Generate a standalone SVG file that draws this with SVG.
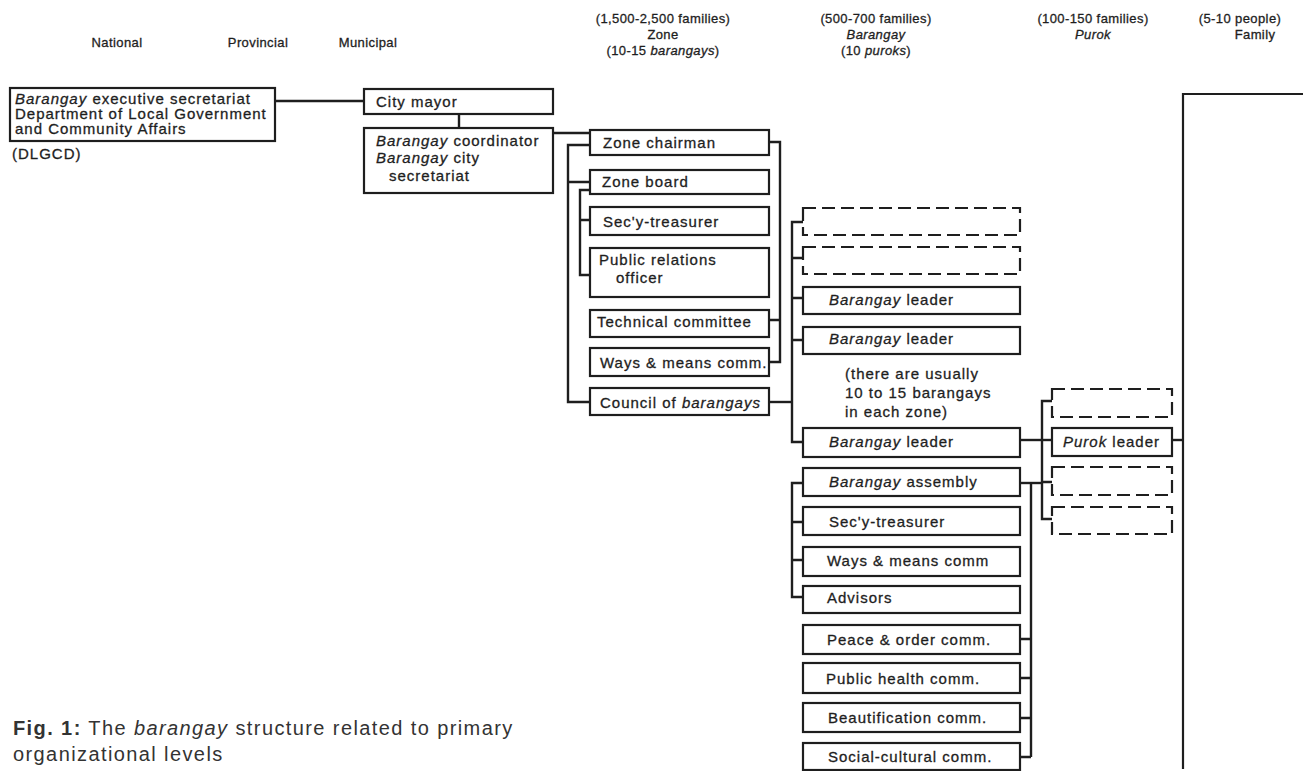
<svg xmlns="http://www.w3.org/2000/svg" width="1303" height="771" viewBox="0 0 1303 771">
<style>
.bx{fill:none;stroke:#1e1e1e;stroke-width:2.2}
.ds{fill:none;stroke:#1e1e1e;stroke-width:2.2;stroke-dasharray:13 6}
.ln{fill:none;stroke:#1e1e1e;stroke-width:2.4}
text{font-family:"Liberation Sans",Arial,sans-serif;fill:#1e1e1e;stroke:#1e1e1e;stroke-width:0.3}
.t{font-size:15px;letter-spacing:1px}
.h{font-size:13px;letter-spacing:0.4px;text-anchor:middle}
.i{font-style:italic}
.cap{font-size:20px;letter-spacing:1.4px;fill:#333;stroke:none}
</style>
<rect width="1303" height="771" fill="#fff"/>
<g id="headers">
<text class="h" x="117" y="47">National</text>
<text class="h" x="258" y="47">Provincial</text>
<text class="h" x="368" y="47">Municipal</text>
<text class="h" x="663" y="23">(1,500-2,500 families)</text>
<text class="h" x="663" y="39">Zone</text>
<text class="h" x="663" y="55">(10-15 <tspan class="i">barangays</tspan>)</text>
<text class="h" x="876" y="23">(500-700 families)</text>
<text class="h i" x="876" y="39">Barangay</text>
<text class="h" x="876" y="55">(10 <tspan class="i">puroks</tspan>)</text>
<text class="h" x="1093" y="23">(100-150 families)</text>
<text class="h i" x="1093" y="39">Purok</text>
<text class="h" x="1240" y="23">(5-10 people)</text>
<text class="h" x="1255" y="39">Family</text>
</g>
<g id="connectors">
<path class="ln" d="M275 101H364"/>
<path class="ln" d="M459 114V128"/>
<path class="ln" d="M553 133H590"/>
<path class="ln" d="M590 145H568V402H590M568 182H590"/>
<path class="ln" d="M590 190H580V275H590M580 220H590"/>
<path class="ln" d="M769 142H780V362H769M769 320H780"/>
<path class="ln" d="M769 402H792"/>
<path class="ln" d="M803 222H792V442H803M792 258H803M792 298H803M792 340H803"/>
<path class="ln" d="M803 483H792V597H803M792 522H803M792 560H803"/>
<path class="ln" d="M1020 440H1052"/>
<path class="ln" d="M1052 401H1042V519H1052M1042 482H1052"/>
<path class="ln" d="M1020 483H1042"/>
<path class="ln" d="M1031 483V757M1020 639H1031M1020 678H1031M1020 718H1031M1020 757H1031"/>
<path class="ln" d="M1172 440H1183"/>
</g>
<g id="n-dlgcd">
<rect class="bx" x="10" y="88" width="265" height="53"/>
<text class="t" x="15" y="104"><tspan class="i">Barangay</tspan> executive secretariat</text>
<text class="t" x="15" y="119">Department of Local Government</text>
<text class="t" x="15" y="134">and Community Affairs</text>
<text class="t" x="12" y="159">(DLGCD)</text>
</g>
<g id="n-mayor">
<rect class="bx" x="364" y="89" width="189" height="25"/>
<text class="t" x="376" y="107">City mayor</text>
</g>
<g id="n-coord">
<rect class="bx" x="364" y="128" width="189" height="65"/>
<text class="t" x="376" y="146"><tspan class="i">Barangay</tspan> coordinator</text>
<text class="t" x="376" y="163"><tspan class="i">Barangay</tspan>  city</text>
<text class="t" x="389" y="181">secretariat</text>
</g>
<g id="n-zone-chair">
<rect class="bx" x="590" y="130" width="179" height="25"/>
<text class="t" x="603" y="148">Zone chairman</text>
</g>
<g id="n-zone-board">
<rect class="bx" x="590" y="170" width="179" height="24"/>
<text class="t" x="602" y="187">Zone board</text>
</g>
<g id="n-zone-sec">
<rect class="bx" x="590" y="207" width="179" height="28"/>
<text class="t" x="603" y="227">Sec'y-treasurer</text>
</g>
<g id="n-zone-pr">
<rect class="bx" x="590" y="248" width="179" height="49"/>
<text class="t" x="599" y="265">Public relations</text>
<text class="t" x="616" y="283">officer</text>
</g>
<g id="n-zone-tech">
<rect class="bx" x="590" y="310" width="179" height="27"/>
<text class="t" x="597" y="327">Technical committee</text>
</g>
<g id="n-zone-ways">
<rect class="bx" x="590" y="348" width="179" height="28"/>
<text class="t" x="600" y="368">Ways &amp; means comm.</text>
</g>
<g id="n-zone-council">
<rect class="bx" x="590" y="388" width="179" height="27"/>
<text class="t" x="600" y="408">Council of <tspan class="i">barangays</tspan></text>
</g>
<g id="n-brgy-d1"><rect class="ds" x="803" y="208" width="217" height="27"/></g>
<g id="n-brgy-d2"><rect class="ds" x="803" y="247" width="217" height="27"/></g>
<g id="n-brgy-l1">
<rect class="bx" x="803" y="287" width="217" height="27"/>
<text class="t" x="829" y="305"><tspan class="i">Barangay</tspan> leader</text>
</g>
<g id="n-brgy-l2">
<rect class="bx" x="803" y="327" width="217" height="27"/>
<text class="t" x="829" y="344"><tspan class="i">Barangay</tspan> leader</text>
</g>
<g id="n-note">
<text class="t" x="845" y="379">(there are usually</text>
<text class="t" x="845" y="398">10 to 15 barangays</text>
<text class="t" x="845" y="417">in each zone)</text>
</g>
<g id="n-brgy-l3">
<rect class="bx" x="803" y="428" width="217" height="29"/>
<text class="t" x="829" y="447"><tspan class="i">Barangay</tspan> leader</text>
</g>
<g id="n-assembly">
<rect class="bx" x="803" y="468" width="217" height="28"/>
<text class="t" x="829" y="487"><tspan class="i">Barangay</tspan> assembly</text>
</g>
<g id="n-b-sec">
<rect class="bx" x="803" y="507" width="217" height="28"/>
<text class="t" x="829" y="527">Sec'y-treasurer</text>
</g>
<g id="n-b-ways">
<rect class="bx" x="803" y="547" width="217" height="29"/>
<text class="t" x="827" y="566">Ways &amp; means comm</text>
</g>
<g id="n-b-adv">
<rect class="bx" x="803" y="586" width="217" height="27"/>
<text class="t" x="827" y="603">Advisors</text>
</g>
<g id="n-b-peace">
<rect class="bx" x="803" y="625" width="217" height="29"/>
<text class="t" x="827" y="645">Peace &amp; order comm.</text>
</g>
<g id="n-b-health">
<rect class="bx" x="803" y="663" width="217" height="30"/>
<text class="t" x="826" y="684">Public health comm.</text>
</g>
<g id="n-b-beaut">
<rect class="bx" x="803" y="703" width="217" height="29"/>
<text class="t" x="828" y="723">Beautification comm.</text>
</g>
<g id="n-b-social">
<rect class="bx" x="803" y="743" width="217" height="27"/>
<text class="t" x="828" y="762">Social-cultural comm.</text>
</g>
<g id="n-purok-d1"><rect class="ds" x="1052" y="389" width="120" height="28"/></g>
<g id="n-purok-leader">
<rect class="bx" x="1052" y="428" width="120" height="28"/>
<text class="t" x="1063" y="447"><tspan class="i">Purok</tspan> leader</text>
</g>
<g id="n-purok-d2"><rect class="ds" x="1052" y="467" width="120" height="28"/></g>
<g id="n-purok-d3"><rect class="ds" x="1052" y="507" width="120" height="27"/></g>
<g id="n-family">
<path class="bx" d="M1303 94H1183V769"/>
</g>
<g id="caption">
<text class="cap" x="13" y="735"><tspan font-weight="bold">Fig. 1:</tspan>  The <tspan class="i">barangay</tspan> structure related to primary</text>
<text class="cap" x="13" y="761">organizational levels</text>
</g>
</svg>
